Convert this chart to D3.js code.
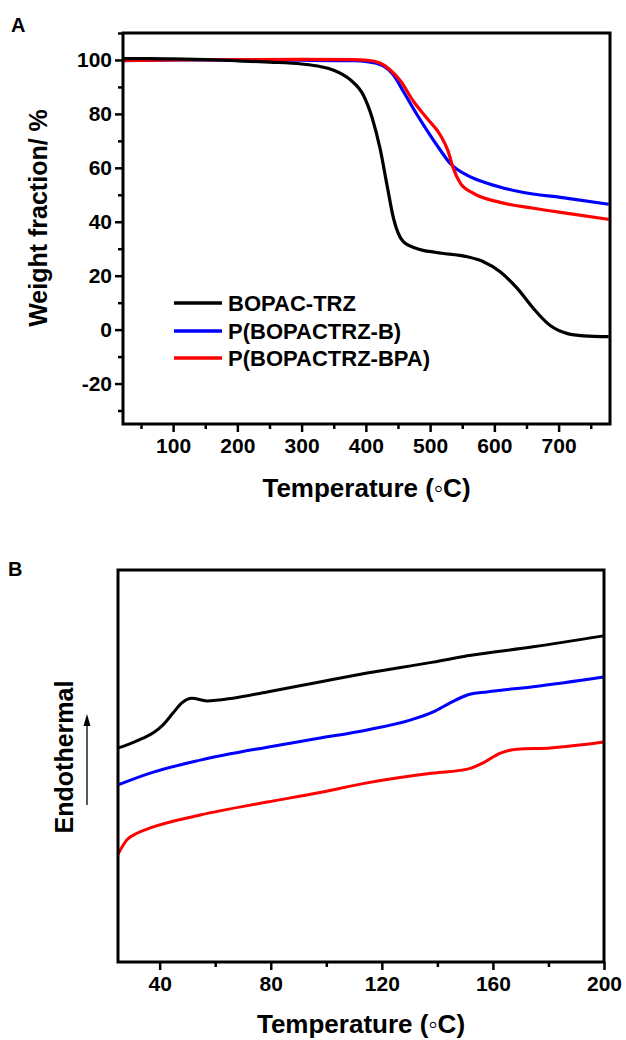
<!DOCTYPE html>
<html><head><meta charset="utf-8">
<script src="https://cdn.jsdelivr.net/npm/d3@7/dist/d3.min.js"></script>
<style>
body{margin:0;background:#fff;}
svg text{font-family:"Liberation Sans",Arial,sans-serif;font-weight:bold;fill:#000;}
</style></head>
<body><svg id="c" width="626" height="1040"></svg>
<script>
// ---------- Panel A (TGA) data ----------
const tgaSeries = ["BOPAC-TRZ", "P(BOPACTRZ-B)", "P(BOPACTRZ-BPA)"];
const tgaColors = ["#000000", "#0000ff", "#ff0000"];
const tgaBlackT = [22,60,100,150,200,250,300,330,349,376,396,410,422,433,443,458,480,510,558,583,609,636,661,687,714,739,778];
const tgaBlackW = [100.5,100.5,100.4,100.1,99.7,99.2,98.5,97.5,96.3,92.6,87,78.4,67.3,53.5,41.3,32.7,30,28.6,27,25.2,21.5,15.2,7.8,1.5,-1.5,-2.3,-2.6];
const tgaBlueT = [22,100,200,300,380,402,427,443,458,480,500,516,531,558,589,636,714,778];
const tgaBlueW = [99.7,100,100,99.9,99.7,99.4,97.8,94.4,88.5,79.6,72.1,66.5,61.7,57.2,54.3,51.3,48.7,46.5];
const tgaRedT = [22,100,200,300,380,402,422,438,454,474,495,516,528,536,547,567,609,661,714,778];
const tgaRedW = [99.8,100,100.1,100.2,100.1,99.9,98.9,96.3,92.2,84.7,78.4,72.1,66.2,59.9,54.3,50.6,47.2,45,43.1,40.9];
const tgaXTicks = [100,200,300,400,500,600,700];
const tgaXMinor = [50,150,250,350,450,550,650,750];
const tgaYTicks = [-20,0,20,40,60,80,100];
const tgaYMinor = [-30,-10,10,30,50,70,90,110];

// ---------- Panel B (DSC) data ----------
const dscSeries = ["BOPAC-TRZ", "P(BOPACTRZ-B)", "P(BOPACTRZ-BPA)"];
const dscBlackT = [25,29,34,38,41.2,44.8,48,51.6,57,66.4,78.7,96.7,114.7,138.5,150.8,174.5,199.8];
const dscBlackV = [54.6,55.6,57.1,58.6,60.5,63.5,66.1,67.3,66.6,67.3,68.9,71.3,73.7,76.5,78.1,80.4,83.2];
const dscBlueT = [25,36.6,54.6,78.7,96.7,114.7,130.2,138.5,144.6,150.8,157.9,174.5,199.8];
const dscBlueV = [45.2,48.2,51.5,54.8,57.0,59.2,61.7,63.8,66.1,68.1,68.9,70.2,72.7];
const dscRedT = [25,28.1,32,36.6,54.6,78.7,96.7,114.7,138.5,150.8,156.5,162.7,168.8,180.7,199.8];
const dscRedV = [27.5,31.1,32.9,34.2,37.5,40.8,43.1,45.7,48.2,49.2,50.8,53.3,54.3,54.6,56.1];
const dscXTicks = [40,80,120,160,200];
const dscXMinor = [60,100,140,180];

const svg = d3.select("#c");
const fmt = d => String(d);

function frame(g, x0, y0, x1, y1){
  g.append("rect").attr("x",x0).attr("y",y0).attr("width",x1-x0).attr("height",y1-y0)
   .attr("fill","none").attr("stroke","#000").attr("stroke-width",3);
}
function styleAxis(g, fs){
  g.select(".domain").remove();
  g.selectAll(".tick line").attr("stroke","#000").attr("stroke-width",2.5);
  g.selectAll(".tick text").attr("font-size",fs).style("font-family",'"Liberation Sans",Arial,sans-serif').style("font-weight","bold");
}

// ---------- Panel A ----------
{
  const L=123,T=33,R=610,B=424;
  const x = d3.scaleLinear().domain([22,780]).range([L,R]);
  const y = d3.scaleLinear().domain([-35,110]).range([B,T]);
  const g = svg.append("g");
  const line = d3.line().curve(d3.curveMonotoneX).x(d=>x(d[0])).y(d=>y(d[1]));
  const data = [d3.zip(tgaBlackT,tgaBlackW), d3.zip(tgaBlueT,tgaBlueW), d3.zip(tgaRedT,tgaRedW)];
  const order=[1,2,0];
  order.forEach(i=>{
    g.append("path").datum(data[i]).attr("d",line).attr("fill","none")
     .attr("stroke",tgaColors[i]).attr("stroke-width",3.2).attr("stroke-linejoin","round");
  });
  const xa = g.append("g").attr("transform",`translate(0,${B})`)
    .call(d3.axisBottom(x).tickValues(tgaXTicks).tickSize(8).tickPadding(6).tickFormat(fmt));
  styleAxis(xa,21);
  const xm = g.append("g").attr("transform",`translate(0,${B})`)
    .call(d3.axisBottom(x).tickValues(tgaXMinor).tickSize(5).tickFormat(""));
  styleAxis(xm,21);
  const ya = g.append("g").attr("transform",`translate(${L},0)`)
    .call(d3.axisLeft(y).tickValues(tgaYTicks).tickSize(8).tickPadding(3).tickFormat(fmt));
  styleAxis(ya,21);
  const ym = g.append("g").attr("transform",`translate(${L},0)`)
    .call(d3.axisLeft(y).tickValues(tgaYMinor).tickSize(5).tickFormat(""));
  styleAxis(ym,21);
  frame(g,L,T,R,B);
  // legend
  const ly=[303,331,358];
  tgaSeries.forEach((s,i)=>{
    g.append("line").attr("x1",174).attr("x2",222).attr("y1",ly[i]).attr("y2",ly[i])
     .attr("stroke",tgaColors[i]).attr("stroke-width",3.5);
    g.append("text").attr("x",228).attr("y",ly[i]+8).attr("font-size",22).text(s);
  });
  g.append("text").attr("x",(L+R)/2).attr("y",497).attr("text-anchor","middle").attr("font-size",26).text("Temperature (◦C)");
  g.append("text").attr("transform",`translate(47,218) rotate(-90)`).attr("text-anchor","middle").attr("font-size",25).text("Weight fraction/ %");
  g.append("text").attr("x",11).attr("y",32).attr("font-size",20).text("A");
}

// ---------- Panel B ----------
{
  const L=118,T=570,R=604,B=962;
  const x = d3.scaleLinear().domain([25,200]).range([L,R]);
  const y = d3.scaleLinear().domain([0,100]).range([B,T]);
  const g = svg.append("g");
  const line = d3.line().curve(d3.curveMonotoneX).x(d=>x(d[0])).y(d=>y(d[1]));
  const data = [d3.zip(dscBlackT,dscBlackV), d3.zip(dscBlueT,dscBlueV), d3.zip(dscRedT,dscRedV)];
  data.forEach((d,i)=>{
    g.append("path").datum(d).attr("d",line).attr("fill","none")
     .attr("stroke",tgaColors[i]).attr("stroke-width",3).attr("stroke-linejoin","round");
  });
  const xa = g.append("g").attr("transform",`translate(0,${B})`)
    .call(d3.axisBottom(x).tickValues(dscXTicks).tickSize(8).tickPadding(6).tickFormat(fmt));
  styleAxis(xa,21);
  const xm = g.append("g").attr("transform",`translate(0,${B})`)
    .call(d3.axisBottom(x).tickValues(dscXMinor).tickSize(5).tickFormat(""));
  styleAxis(xm,21);
  frame(g,L,T,R,B);
  g.append("text").attr("x",(L+R)/2).attr("y",1033).attr("text-anchor","middle").attr("font-size",26).text("Temperature (◦C)");
  g.append("text").attr("transform",`translate(73,757) rotate(-90)`).attr("text-anchor","middle").attr("font-size",25).text("Endothermal");
  g.append("line").attr("x1",87).attr("x2",87).attr("y1",805).attr("y2",722).attr("stroke","#000").attr("stroke-width",1.3);
  g.append("path").attr("d","M87,714 L83.5,726 L90.5,726 Z").attr("fill","#000");
  g.append("text").attr("x",8).attr("y",576).attr("font-size",20).text("B");
}
</script></body></html>
